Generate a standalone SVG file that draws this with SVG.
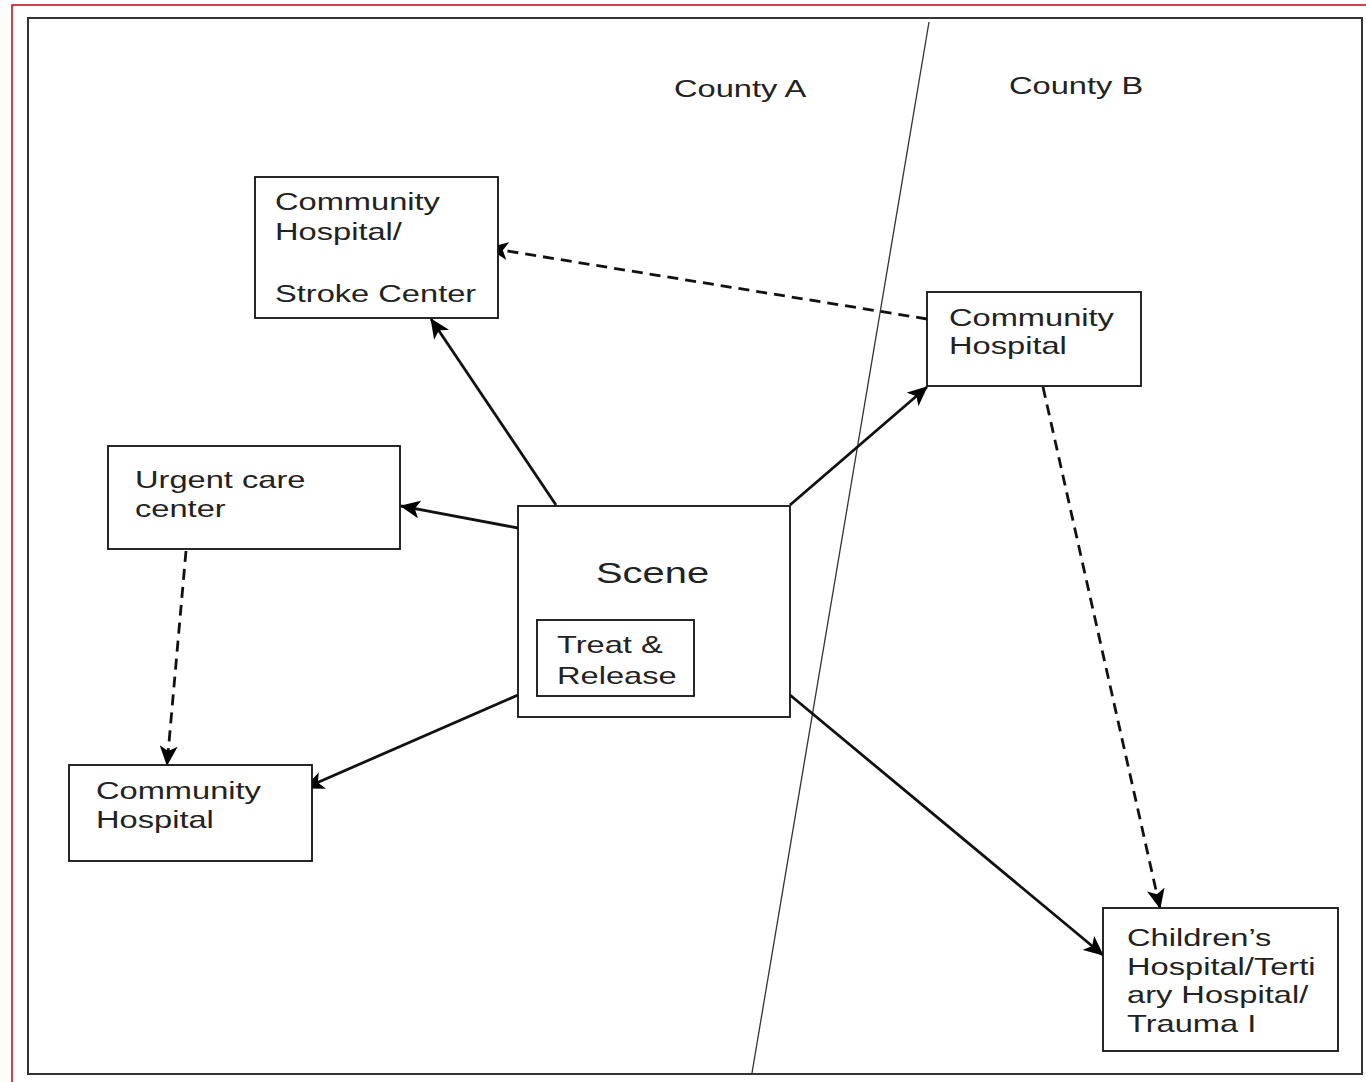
<svg xmlns="http://www.w3.org/2000/svg" width="1366" height="1082" viewBox="0 0 1366 1082">
<style>
.box{fill:#fff;stroke:#111;stroke-width:1.8}
.t{font-family:"Liberation Sans",Arial,sans-serif;font-size:24px;fill:#222}
.sc{font-size:30px}
.c{fill:none;stroke:#111;stroke-width:2.8}
.d{stroke-dasharray:11 7}
</style>
<defs>
<marker id="ah" markerUnits="userSpaceOnUse" markerWidth="22" markerHeight="18" refX="19" refY="9" orient="auto">
<path d="M0,0 L20,9 L0,18 L5,9 Z" fill="#000"/>
</marker>
</defs>
<rect x="0" y="0" width="1366" height="1082" fill="#fff"/>
<rect x="12" y="5" width="1400" height="1120" fill="none" stroke="#d0101a" stroke-width="1.6"/>
<rect x="28" y="18" width="1334" height="1056" fill="none" stroke="#333" stroke-width="2"/>
<line id="divider" x1="929" y1="22" x2="752" y2="1073" stroke="#333" stroke-width="1.3"/>
<g id="county-a"><text class="t" transform="translate(674,97) scale(1.36,1)">County A</text></g>
<g id="county-b"><text class="t" transform="translate(1009,94) scale(1.36,1)">County B</text></g>
<g id="connectors">
<line class="c" x1="556" y1="505" x2="431" y2="319" marker-end="url(#ah)"/>
<line class="c" x1="518" y1="528" x2="401" y2="506" marker-end="url(#ah)"/>
<line class="c" x1="518" y1="695" x2="305" y2="788" marker-end="url(#ah)"/>
<line class="c" x1="790" y1="505" x2="927" y2="387" marker-end="url(#ah)"/>
<line class="c" x1="790" y1="695" x2="1103" y2="955" marker-end="url(#ah)"/>
<line class="c d" x1="927" y1="319" x2="489" y2="248" marker-end="url(#ah)"/>
<line class="c d" x1="186" y1="551" x2="167" y2="765" marker-end="url(#ah)"/>
<line class="c d" x1="1043" y1="387" x2="1160" y2="908" marker-end="url(#ah)"/>
</g>
<g id="stroke-center">
<rect class="box" x="255" y="177" width="243" height="141"/>
<text class="t" transform="translate(275,210) scale(1.36,1)"><tspan x="0" y="0">Community</tspan><tspan x="0" y="30">Hospital/</tspan><tspan x="0" y="92">Stroke Center</tspan></text>
</g>
<g id="community-b">
<rect class="box" x="927" y="292" width="214" height="94"/>
<text class="t" transform="translate(949,326) scale(1.36,1)"><tspan x="0" y="0">Community</tspan><tspan x="0" y="28">Hospital</tspan></text>
</g>
<g id="urgent-care">
<rect class="box" x="108" y="446" width="292" height="103"/>
<text class="t" transform="translate(135,488) scale(1.36,1)"><tspan x="0" y="0">Urgent care</tspan><tspan x="0" y="29">center</tspan></text>
</g>
<g id="scene">
<rect class="box" x="518" y="506" width="272" height="211"/>
<text class="t sc" transform="translate(596,583) scale(1.33,1)">Scene</text>
<g id="treat-release">
<rect class="box" x="537" y="620" width="157" height="76"/>
<text class="t" transform="translate(557,653) scale(1.36,1)"><tspan x="0" y="0">Treat &amp;</tspan><tspan x="0" y="31">Release</tspan></text>
</g>
</g>
<g id="community-a">
<rect class="box" x="69" y="765" width="243" height="96"/>
<text class="t" transform="translate(96,799) scale(1.36,1)"><tspan x="0" y="0">Community</tspan><tspan x="0" y="29">Hospital</tspan></text>
</g>
<g id="childrens">
<rect class="box" x="1103" y="908" width="235" height="143"/>
<text class="t" transform="translate(1127,946) scale(1.36,1)"><tspan x="0" y="0">Children’s</tspan><tspan x="0" y="29">Hospital/Terti</tspan><tspan x="0" y="57">ary Hospital/</tspan><tspan x="0" y="86">Trauma I</tspan></text>
</g>
</svg>
